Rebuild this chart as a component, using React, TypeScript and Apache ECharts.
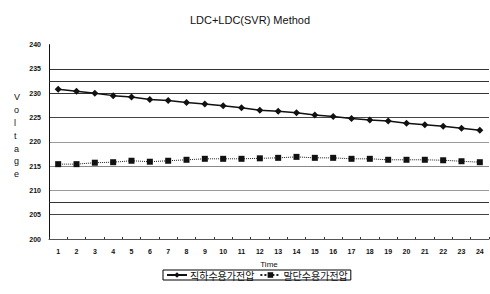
import React, { useEffect, useRef } from "react";
import * as echarts from "echarts";

const categories = ["1","2","3","4","5","6","7","8","9","10","11","12","13","14","15","16","17","18","19","20","21","22","23","24"];
const seriesNames = ["직하수용가전압", "말단수용가전압"];
const directVoltage = [230.8, 230.4, 230.0, 229.5, 229.2, 228.7, 228.5, 228.1, 227.8, 227.4, 227.0, 226.5, 226.3, 226.0, 225.5, 225.2, 224.8, 224.5, 224.3, 223.8, 223.5, 223.2, 222.8, 222.4];
const endVoltage = [215.4, 215.4, 215.7, 215.8, 216.1, 215.9, 216.1, 216.3, 216.5, 216.5, 216.5, 216.6, 216.7, 216.9, 216.7, 216.7, 216.5, 216.5, 216.3, 216.3, 216.3, 216.2, 216.0, 215.8];
const limitLines = [232.5, 207.5];
const yMin = 200;
const yMax = 240;
const yInterval = 5;

export default function App() {
  const ref = useRef<HTMLDivElement>(null);
  useEffect(() => {
    if (!ref.current) return;
    const chart = echarts.init(ref.current, undefined, { renderer: "svg" });
    const font = "Liberation Sans, Arial, sans-serif";
    chart.setOption({
      animation: false,
      backgroundColor: "#fff",
      title: {
        text: "LDC+LDC(SVR) Method",
        left: 245,
        textAlign: "center",
        top: 9,
        textStyle: { fontSize: 11, fontWeight: "normal", color: "#111", fontFamily: font },
      },
      grid: { left: 49, right: 1, top: 44.6, bottom: 55 },
      legend: {
        data: seriesNames,
        orient: "horizontal",
        left: 163,
        top: 270,
        borderColor: "#000",
        borderWidth: 1,
        borderRadius: 0,
        padding: [0, 3],
        itemGap: 5,
        itemWidth: 20,
        itemHeight: 7,
        textStyle: { fontSize: 10, color: "#111", fontFamily: "Noto Sans CJK KR", padding: [0, 0, 0, -2] },
      },
      graphic: [
        {
          type: "text",
          left: 14,
          top: 91,
          style: {
            text: "V\no\nl\nt\na\ng\ne",
            fontSize: 9,
            lineHeight: 12.8,
            fill: "#111",
            fontFamily: font,
            align: "center",
          },
        },
      ],
      xAxis: {
        type: "category",
        data: categories,
        boundaryGap: true,
        name: "Time",
        nameLocation: "middle",
        nameGap: 21,
        nameTextStyle: { fontSize: 8, color: "#111", fontFamily: font },
        axisLine: { lineStyle: { color: "#555", width: 1 } },
        axisTick: { show: true, inside: true, length: 2, lineStyle: { color: "#333" } },
        axisLabel: { fontSize: 7, color: "#111", margin: 9, fontFamily: font, fontWeight: "bold" },
      },
      yAxis: {
        type: "value",
        min: yMin,
        max: yMax,
        interval: yInterval,
        axisLine: { show: true, lineStyle: { color: "#111", width: 1 } },
        axisTick: { show: false },
        axisLabel: { fontSize: 7, color: "#111", margin: 8, fontFamily: font, fontWeight: "bold" },
        splitLine: {
          show: true,
          lineStyle: {
            color: ["transparent", "#444", "#999", "#888", "#999", "#444", "#333", "#333", "transparent"],
            width: 1,
          },
        },
      },
      series: [
        {
          name: seriesNames[0],
          type: "line",
          data: directVoltage,
          symbol: "diamond",
          symbolSize: 7,
          itemStyle: { color: "#111" },
          lineStyle: { color: "#111", width: 1.5 },
          markLine: {
            silent: true,
            symbol: "none",
            label: { show: false },
            lineStyle: { color: "#333", width: 1, type: "solid" },
            data: limitLines.map((v) => ({ yAxis: v })),
          },
        },
        {
          name: seriesNames[1],
          type: "line",
          data: endVoltage,
          symbol: "rect",
          symbolSize: 6,
          itemStyle: { color: "#111" },
          lineStyle: { color: "#222", width: 1, type: "dotted" },
        },
      ],
    });
    return () => chart.dispose();
  }, []);
  return <div ref={ref} style={{ width: 490, height: 294, position: "absolute", left: 0, top: 0 }} />;
}
